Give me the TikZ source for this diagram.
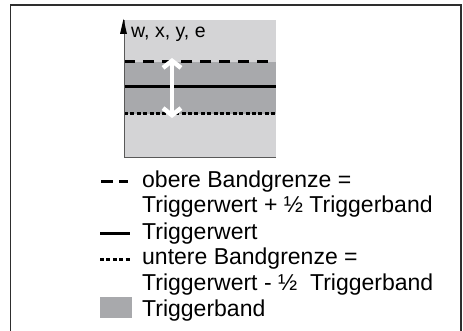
\documentclass[tikz,border=0pt]{standalone}
\usepackage{fontspec}
\setmainfont{Liberation Sans}
\usetikzlibrary{arrows.meta}
\definecolor{bandlight}{HTML}{D4D4D6}
\definecolor{banddark}{HTML}{A8A9AC}
\definecolor{framegray}{HTML}{2E2E2E}

\begin{document}
\begin{tikzpicture}[x=1pt,y=-1pt,
  legtext/.style={anchor=base west,inner sep=0pt,font=\fontsize{23}{24}\selectfont},
  bandline/.style={line width=3pt,black}]
\useasboundingbox (0,0) rectangle (463,331);
\draw[framegray,line width=1.6pt] (10.5,5) rectangle (461,345);

% chart
\fill[bandlight] (124,20) rectangle (276,157);
\fill[banddark] (124,62) rectangle (276,114);
\draw[bandline,dash pattern=on 11pt off 8pt] (124,62) -- (276,62);
\draw[bandline] (124,87) -- (276,87);
\draw[bandline,dash pattern=on 4pt off 2.4pt] (124,114) -- (276,114);
\draw[line width=0.9pt,gray!70!black] (276,157) -- (124,157)
  -- (124,20) coordinate (axtop);
\fill (120,34) -- (123.5,19) -- (127,34) -- cycle;
\node[legtext,font=\fontsize{19.5}{21}\selectfont] (axlabel) at (131,38) {w, x, y, e};
\coordinate (bandtop) at (172,58);
\coordinate (bandbot) at (172,118);
\draw[white,line width=4.5pt,{Straight Barb[length=7pt,width=18pt]}-{Straight Barb[length=7pt,width=18pt]}]
  (bandtop) -- (bandbot);

% legend
\foreach \n/\y/\t in {l1/188/{obere Bandgrenze =},
  l2/213/{Triggerwert + ½ Triggerband},
  l3/239/{Triggerwert},
  l4/264/{untere Bandgrenze =},
  l5/290/{Triggerwert - ½\ \ Triggerband},
  l6/316/{Triggerband}}{
\node[legtext] (\n) at (142,\y) {\t};
}
\draw[bandline] (101,182) -- (113,182) (119,182) -- (128,182);
\draw[bandline] (100,233) -- (130,233);
\draw[bandline,dash pattern=on 4pt off 2.4pt] (100,259) -- (130,259);
\fill[banddark] (100,297) rectangle (132,318);
\end{tikzpicture}
\end{document}
